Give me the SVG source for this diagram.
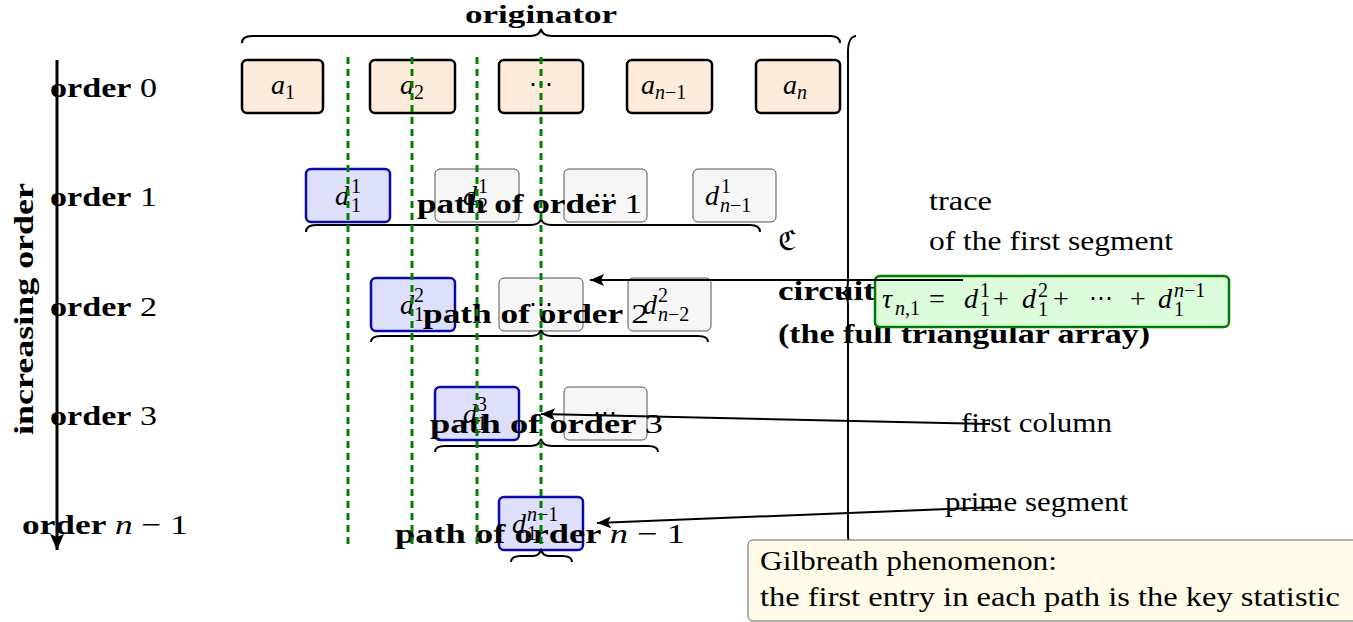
<svg xmlns="http://www.w3.org/2000/svg" width="1353" height="622" viewBox="0 0 1353 622" font-family="'Liberation Serif', 'Times New Roman', Times, serif">
<style>
text{font-family:'Liberation Serif','Times New Roman',Times,serif;font-size:28px;fill:#000}
.b{font-weight:bold}
.i{font-style:italic}
.s{font-size:20px}
.sym{font-family:'DejaVu Serif',serif;font-size:24px}
.orig rect{fill:#fdecdb;stroke:#000;stroke-width:2.5}
.first rect{fill:#dedffb;stroke:#0a0aa6;stroke-width:2.5}
.cell rect{fill:#f6f6f6;stroke:#555;stroke-width:1}
.brace{fill:none;stroke:#000;stroke-width:2}
.guide{stroke:#008000;stroke-width:3;stroke-dasharray:7 5;fill:none}
.conn{stroke:#000;stroke-width:2;fill:none;marker-end:url(#ah)}
</style>
<defs>
<marker id="ah" markerUnits="userSpaceOnUse" markerWidth="16" markerHeight="12" refX="14" refY="6" orient="auto">
<path d="M0,0 L14,6 L0,12 L3,6 Z" fill="#000"/>
</marker>
<marker id="ah3" markerUnits="userSpaceOnUse" markerWidth="18" markerHeight="14" refX="16" refY="7" orient="auto">
<path d="M0,0 L16,7 L0,14 L3,7 Z" fill="#000"/>
</marker>
</defs>

<g id="axis">
<line x1="57" y1="60" x2="57" y2="550" stroke="#000" stroke-width="3" marker-end="url(#ah3)"/>
<text class="b" transform="translate(33,309) rotate(-90)" text-anchor="middle" textLength="252" lengthAdjust="spacingAndGlyphs">increasing order</text>
</g>

<g id="order-labels">
<text x="50" y="97" textLength="107" lengthAdjust="spacingAndGlyphs"><tspan class="b">order</tspan> 0</text>
<text x="50" y="206" textLength="107" lengthAdjust="spacingAndGlyphs"><tspan class="b">order</tspan> 1</text>
<text x="50" y="316" textLength="107" lengthAdjust="spacingAndGlyphs"><tspan class="b">order</tspan> 2</text>
<text x="50" y="425" textLength="107" lengthAdjust="spacingAndGlyphs"><tspan class="b">order</tspan> 3</text>
<text x="22" y="534" textLength="166" lengthAdjust="spacingAndGlyphs"><tspan class="b">order</tspan> <tspan class="i">n</tspan> − 1</text>
</g>

<g id="originator">
<path class="brace" d="M242,43 C242,38 245,36 252,36 L530,36 C536,36 540,34 541,29 C542,34 546,36 552,36 L830,36 C837,36 840,38 840,43"/>
<text class="b" x="465" y="23" style="font-size:26px" textLength="152" lengthAdjust="spacingAndGlyphs">originator</text>
</g>

<g id="a1" class="orig"><rect x="242" y="60" width="81" height="53" rx="5"/>
<text x="271" y="94" class="i">a</text><text x="285" y="99" class="s">1</text></g>
<g id="a2" class="orig"><rect x="370" y="60" width="85" height="53" rx="5"/>
<text x="400" y="94" class="i">a</text><text x="414" y="99" class="s">2</text></g>
<g id="adots" class="orig"><rect x="499" y="60" width="84" height="53" rx="5"/>
<text x="541" y="92" class="sym" text-anchor="middle">⋯</text></g>
<g id="an1" class="orig"><rect x="627" y="60" width="85" height="53" rx="5"/>
<text x="641" y="94" class="i">a</text><text x="655" y="99" class="s"><tspan class="i">n</tspan>−1</text></g>
<g id="an" class="orig"><rect x="756" y="60" width="84" height="53" rx="5"/>
<text x="783" y="94" class="i">a</text><text x="797" y="99" class="s i">n</text></g>

<g id="d11" class="first"><rect x="306" y="169" width="84" height="53" rx="5"/>
<text x="335" y="205" class="i">d</text><text x="351" y="193" class="s">1</text><text x="351" y="212" class="s">1</text></g>
<g id="d21" class="cell"><rect x="435" y="169" width="84" height="53" rx="5"/>
<text x="463" y="205" class="i">d</text><text x="478" y="193" class="s">1</text><text x="478" y="212" class="s">2</text></g>
<g id="d1dots" class="cell"><rect x="564" y="169" width="83" height="53" rx="5"/>
<text x="605" y="203" class="sym" text-anchor="middle">⋯</text></g>
<g id="dn1" class="cell"><rect x="693" y="169" width="83" height="53" rx="5"/>
<text x="705" y="205" class="i">d</text><text x="721" y="193" class="s">1</text><text x="720" y="212" class="s"><tspan class="i">n</tspan>−1</text></g>

<g id="d12" class="first"><rect x="371" y="278" width="84" height="53" rx="5"/>
<text x="400" y="314" class="i">d</text><text x="414" y="302" class="s">2</text><text x="414" y="321" class="s">1</text></g>
<g id="d2dots" class="cell"><rect x="499" y="278" width="84" height="53" rx="5"/>
<text x="541" y="312" class="sym" text-anchor="middle">⋯</text></g>
<g id="dn2" class="cell"><rect x="628" y="278" width="83" height="53" rx="5"/>
<text x="643" y="314" class="i">d</text><text x="658" y="302" class="s">2</text><text x="658" y="321" class="s"><tspan class="i">n</tspan>−2</text></g>

<g id="d13" class="first"><rect x="435" y="387" width="84" height="53" rx="5"/>
<text x="463" y="423" class="i">d</text><text x="477" y="411" class="s">3</text><text x="477" y="430" class="s">1</text></g>
<g id="d3dots" class="cell"><rect x="564" y="387" width="83" height="53" rx="5"/>
<text x="605" y="421" class="sym" text-anchor="middle">⋯</text></g>

<g id="d1n" class="first"><rect x="499" y="497" width="84" height="53" rx="5"/>
<text x="512" y="533" class="i">d</text><text x="527" y="521" class="s"><tspan class="i">n</tspan>−1</text><text x="527" y="540" class="s">1</text></g>

<g id="path1">
<path class="brace" d="M306,232 C306,227 309,225 316,225 L530,225 C536,225 540,223 541,219 C542,223 546,225 552,225 L750,225 C757,225 760,227 760,232"/>
<text class="b" x="417" y="213" textLength="225" lengthAdjust="spacingAndGlyphs">path of order <tspan font-weight="normal">1</tspan></text>
</g>
<g id="path2">
<path class="brace" d="M371,342 C371,338 374,336 381,336 L530,336 C536,336 540,334 541,330 C542,334 546,336 552,336 L698,336 C705,336 708,338 708,342"/>
<text class="b" x="423" y="323" textLength="226" lengthAdjust="spacingAndGlyphs">path of order <tspan font-weight="normal">2</tspan></text>
</g>
<g id="path3">
<path class="brace" d="M435,452 C435,448 438,446 445,446 L530,446 C536,446 540,444 541,439 C542,444 546,446 552,446 L648,446 C655,446 658,448 658,452"/>
<text class="b" x="430" y="433" textLength="233" lengthAdjust="spacingAndGlyphs">path of order <tspan font-weight="normal">3</tspan></text>
</g>
<g id="pathn">
<path class="brace" d="M511,562 C511,558 514,556 521,556 L533,556 C537,556 540,554 541,549 C542,554 545,556 549,556 L562,556 C569,556 572,558 572,562"/>
<text class="b" x="395" y="543" textLength="290" lengthAdjust="spacingAndGlyphs">path of order <tspan font-weight="normal" class="i">n</tspan><tspan font-weight="normal"> − 1</tspan></text>
</g>

<g id="circuit">
<path class="brace" d="M856,36 C850,37 848,42 848,52 L848,281 C848,288 846,292 843,293 C846,294 848,298 848,305 L848,534 C848,544 850,549 856,550"/>
<text x="778" y="250" class="sym" style="font-size:28px">ℭ</text>
<text class="b" x="778" y="300" textLength="97" lengthAdjust="spacingAndGlyphs">circuit</text>
<text class="b" x="778" y="343" textLength="372" lengthAdjust="spacingAndGlyphs">(the full triangular array)</text>
</g>

<g id="trace-label">
<text x="929" y="210" textLength="63" lengthAdjust="spacingAndGlyphs">trace</text>
<text x="929" y="250" textLength="244" lengthAdjust="spacingAndGlyphs">of the first segment</text>
</g>

<g id="tau">
<rect x="875" y="276" width="354" height="51" rx="5" fill="#dcfcdc" stroke="#007a00" stroke-width="2.5"/>
<text x="882" y="308" class="i">τ</text><text x="895" y="315" class="s"><tspan class="i">n</tspan>,1</text>
<text x="929" y="308">=</text>
<text x="964" y="308" class="i">d</text><text x="980" y="297" class="s">1</text><text x="980" y="316" class="s">1</text>
<text x="993" y="308">+</text>
<text x="1022" y="308" class="i">d</text><text x="1038" y="297" class="s">2</text><text x="1038" y="316" class="s">1</text>
<text x="1053" y="308">+</text>
<text x="1101" y="306" class="sym" text-anchor="middle">⋯</text>
<text x="1130" y="308">+</text>
<text x="1158" y="308" class="i">d</text><text x="1174" y="297" class="s"><tspan class="i">n</tspan>−1</text><text x="1174" y="316" class="s">1</text>
</g>

<g id="first-column-label">
<text x="961" y="432" textLength="151" lengthAdjust="spacingAndGlyphs">first column</text>
</g>
<g id="prime-segment-label">
<text x="945" y="511" textLength="183" lengthAdjust="spacingAndGlyphs">prime segment</text>
</g>

<g id="guides">
<line class="guide" x1="348" y1="57" x2="348" y2="545"/>
<line class="guide" x1="412" y1="57" x2="412" y2="545"/>
<line class="guide" x1="477" y1="57" x2="477" y2="545"/>
<line class="guide" x1="541" y1="57" x2="541" y2="545"/>
</g>

<g id="connectors">
<line class="conn" x1="963" y1="280" x2="590" y2="280"/>
<line class="conn" x1="990" y1="424" x2="541" y2="414"/>
<line class="conn" x1="998" y1="507" x2="597" y2="523"/>
</g>

<g id="note">
<rect x="748" y="540" width="615" height="81" rx="5" fill="#fffbe8" stroke="#666" stroke-width="1"/>
<text x="760" y="570" textLength="297" lengthAdjust="spacingAndGlyphs">Gilbreath phenomenon:</text>
<text x="760" y="606" textLength="580" lengthAdjust="spacingAndGlyphs">the first entry in each path is the key statistic</text>
</g>
</svg>
